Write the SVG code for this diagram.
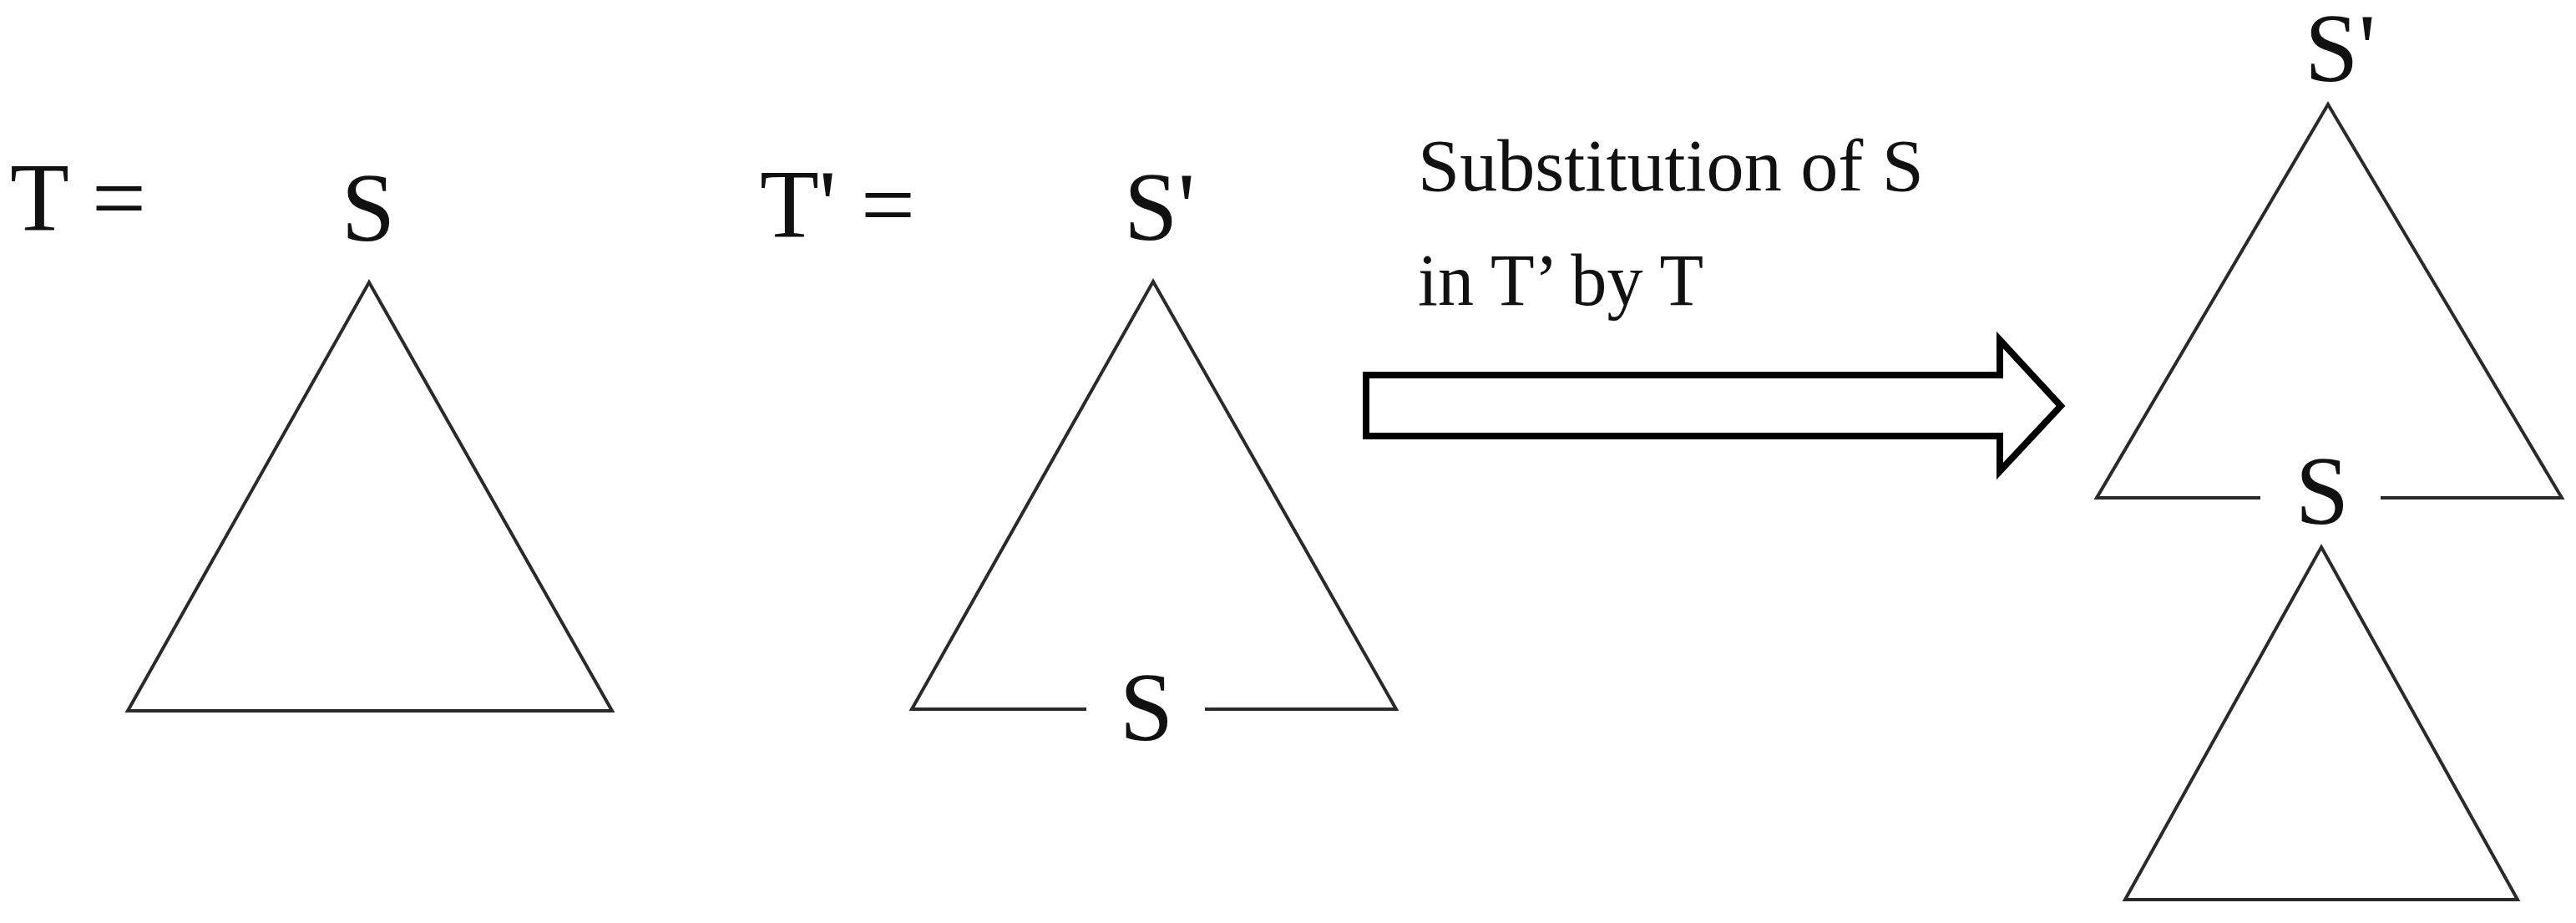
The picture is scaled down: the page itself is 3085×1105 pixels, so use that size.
<svg xmlns="http://www.w3.org/2000/svg" width="3085" height="1105" viewBox="0 0 3085 1105">
<style>
.lbl{font-family:"Liberation Serif","Times New Roman",serif;font-size:116px;fill:#111}
.cap{font-family:"Liberation Serif","Times New Roman",serif;font-size:88px;fill:#111}
.tri{fill:none;stroke:#2a2a2a;stroke-width:4;stroke-linejoin:miter}
.arrow{fill:#fff;stroke:#000;stroke-width:8;stroke-linejoin:miter;stroke-miterlimit:10}
</style>
<rect width="3085" height="1105" fill="#fff"/>
<g id="label-T">
<text class="lbl" x="12" y="276">T =</text>
</g>
<g id="tree-T">
<polygon class="tri" points="442,338 733,851 153,851"/>
<text class="lbl" x="441" y="288" text-anchor="middle">S</text>
</g>
<g id="label-Tp">
<text class="lbl" x="910" y="284">T' =</text>
</g>
<g id="tree-Tp">
<polyline class="tri" points="1301,849 1092,849 1381,337 1672,849 1443,849"/>
<text class="lbl" x="1346" y="287">S'</text>
<text class="lbl" x="1373" y="886" text-anchor="middle">S</text>
</g>
<g id="caption">
<text class="cap" x="1698" y="228" textLength="606" lengthAdjust="spacingAndGlyphs">Substitution of S</text>
<text class="cap" x="1698" y="365" textLength="342" lengthAdjust="spacingAndGlyphs">in T’ by T</text>
</g>
<g id="connectors">
<path class="arrow" d="M1636,449 L2395,449 L2395,407 L2468,486 L2395,564 L2395,522 L1636,522 Z"/>
</g>
<g id="tree-result">
<polyline class="tri" points="2707,596 2511,596 2788,125 3068,596 2851,596"/>
<text class="lbl" x="2760" y="97">S'</text>
<text class="lbl" x="2781" y="627" text-anchor="middle">S</text>
<polygon class="tri" points="2780,655 3015,1077 2545,1077"/>
</g>
</svg>
